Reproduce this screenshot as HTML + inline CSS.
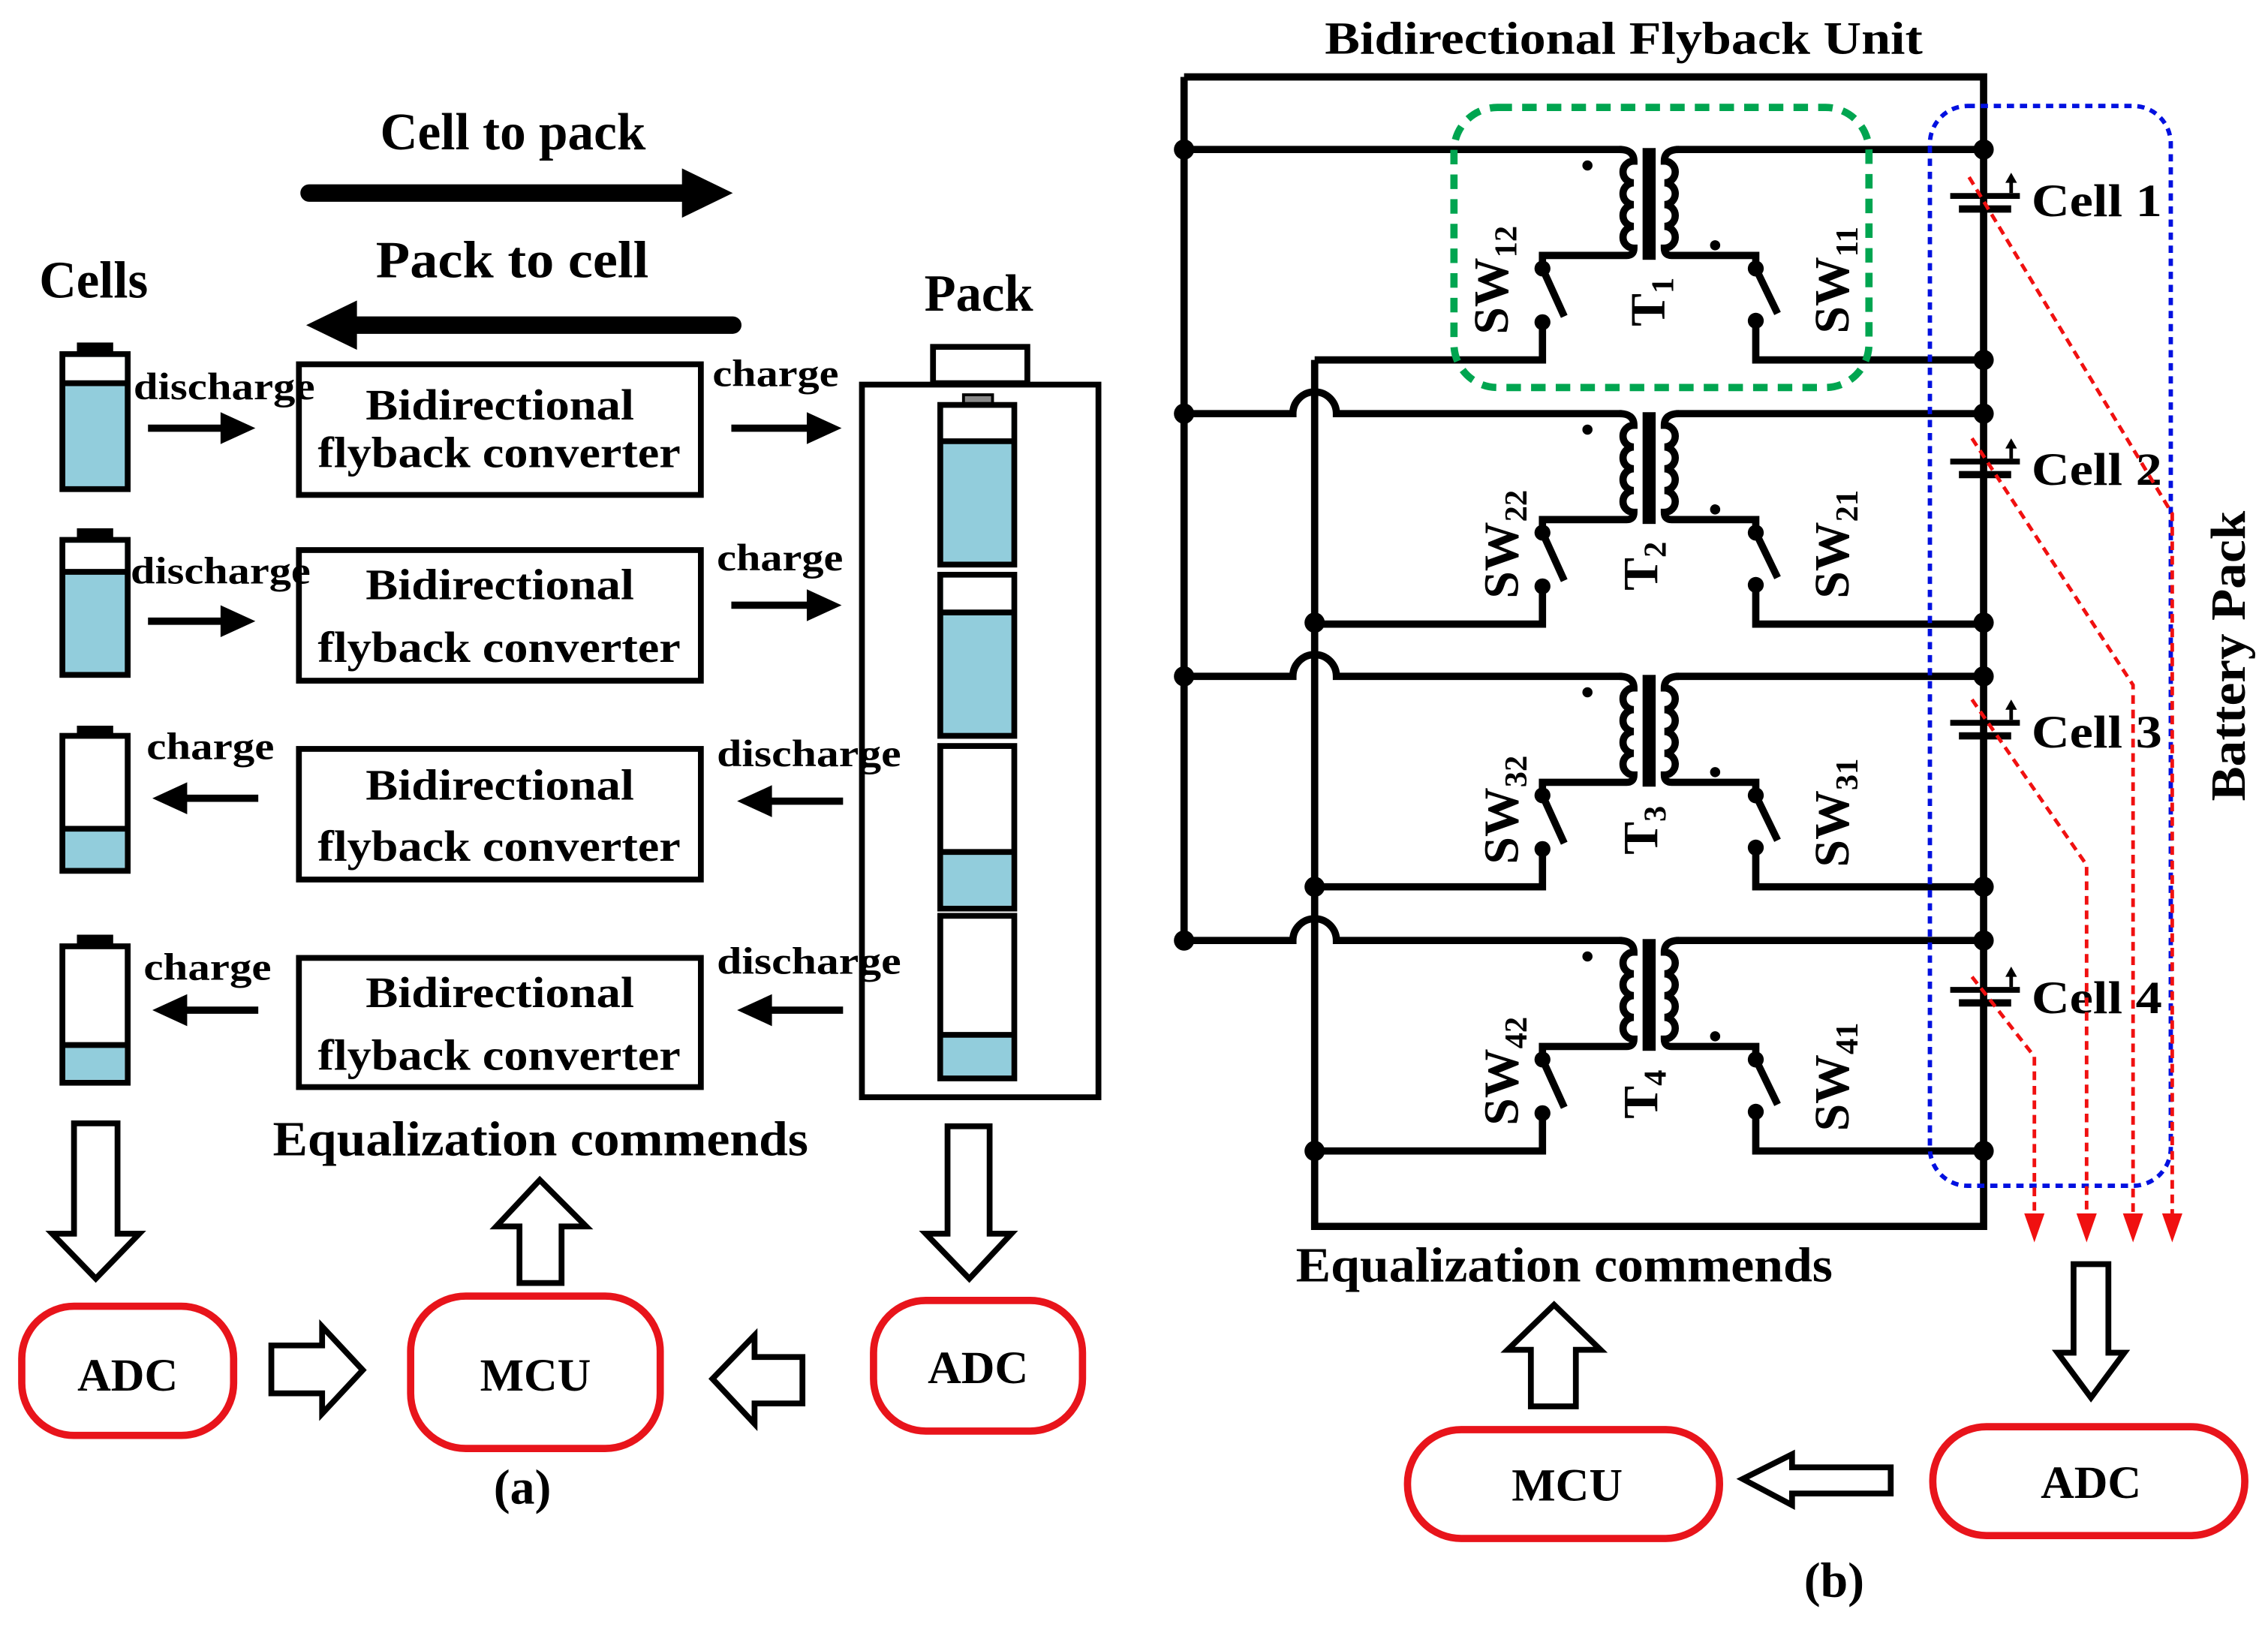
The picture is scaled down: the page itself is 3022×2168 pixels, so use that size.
<!DOCTYPE html>
<html><head><meta charset="utf-8"><style>
html,body{margin:0;padding:0;background:#fff;}
svg{display:block;}
text{font-family:"Liberation Serif",serif;font-weight:bold;fill:#000;}
</style></head><body>
<svg width="3022" height="2168" viewBox="0 0 1563 1121" preserveAspectRatio="none" xmlns="http://www.w3.org/2000/svg">
<defs>
<g id="tx" stroke="#000" stroke-width="5" fill="none" stroke-linecap="butt">
  <path d="M1116,0 q10,0 10,8 a7.5,7.5 0 0 0 0,15 a7.5,7.5 0 0 0 0,15 a7.5,7.5 0 0 0 0,15 a7.5,7.5 0 0 0 0,15 q0,5 -5,5 H1063 V82"/>
  <rect x="1132" y="-1" width="9" height="77" fill="#000" stroke="none"/>
  <path d="M1157,0 q-10,0 -10,8 a7.5,7.5 0 0 1 0,15 a7.5,7.5 0 0 1 0,15 a7.5,7.5 0 0 1 0,15 a7.5,7.5 0 0 1 0,15 q0,5 5,5 H1210 V82"/>
  <line x1="1063" y1="82" x2="1078" y2="115"/>
  <line x1="1210" y1="82" x2="1225" y2="113"/>
  <path d="M1063,119 V145 H906"/>
  <path d="M1210,118 V145 H1367"/>
  <g fill="#000" stroke="none">
    <circle cx="1063" cy="82" r="5.5"/><circle cx="1063" cy="119" r="5.5"/>
    <circle cx="1210" cy="82" r="5.5"/><circle cx="1210" cy="118" r="5.5"/>
    <circle cx="1094" cy="11" r="3.5"/><circle cx="1182" cy="66" r="3.5"/>
  </g>
</g>
</defs>

<!-- ================= PANEL (a) ================= -->
<text x="262" y="103" font-size="36" textLength="183" lengthAdjust="spacingAndGlyphs">Cell to pack</text>
<line x1="213" y1="133" x2="474" y2="133" stroke="#000" stroke-width="12" stroke-linecap="round"/>
<polygon points="470,116 505,133 470,150" fill="#000"/>
<text x="259" y="191" font-size="36" textLength="188" lengthAdjust="spacingAndGlyphs">Pack to cell</text>
<line x1="243" y1="224" x2="505" y2="224" stroke="#000" stroke-width="12" stroke-linecap="round"/>
<polygon points="246,207 211,224 246,241" fill="#000"/>
<text x="27" y="205" font-size="36" textLength="75" lengthAdjust="spacingAndGlyphs">Cells</text>
<text x="637" y="214" font-size="36" textLength="75" lengthAdjust="spacingAndGlyphs">Pack</text>

<!-- pack (drawn first so labels overlay) -->
<g stroke="#000" stroke-width="4">
  <rect x="643" y="239" width="65" height="25" fill="#fff"/>
  <rect x="594" y="265" width="163" height="491" fill="#fff"/>
  <rect x="664" y="272" width="20" height="7" fill="#888" stroke-width="2"/>
  <rect x="648" y="279" width="51" height="110" fill="#92CDDC"/>
  <rect x="650" y="281" width="47" height="23" fill="#fff" stroke="none"/>
  <line x1="648" y1="304" x2="699" y2="304"/>
  <rect x="648" y="396" width="51" height="111" fill="#92CDDC"/>
  <rect x="650" y="398" width="47" height="24" fill="#fff" stroke="none"/>
  <line x1="648" y1="422" x2="699" y2="422"/>
  <rect x="648" y="514" width="51" height="112" fill="#fff"/>
  <rect x="650" y="587" width="47" height="37" fill="#92CDDC" stroke="none"/>
  <line x1="648" y1="587" x2="699" y2="587"/>
  <rect x="648" y="631" width="51" height="112" fill="#fff"/>
  <rect x="650" y="713" width="47" height="28" fill="#92CDDC" stroke="none"/>
  <line x1="648" y1="713" x2="699" y2="713"/>
</g>

<!-- small cells -->
<g stroke="#000" stroke-width="4">
  <rect x="55" y="238" width="21" height="7" fill="#000"/>
  <rect x="43" y="244" width="45" height="93" fill="#92CDDC"/>
  <rect x="45" y="246" width="41" height="18" fill="#fff" stroke="none"/>
  <line x1="43" y1="264" x2="88" y2="264"/>
  <rect x="55" y="366" width="21" height="7" fill="#000"/>
  <rect x="43" y="372" width="45" height="93" fill="#92CDDC"/>
  <rect x="45" y="374" width="41" height="20" fill="#fff" stroke="none"/>
  <line x1="43" y1="394" x2="88" y2="394"/>
  <rect x="55" y="502" width="21" height="6" fill="#000"/>
  <rect x="43" y="507" width="45" height="93" fill="#fff"/>
  <rect x="45" y="571" width="41" height="27" fill="#92CDDC" stroke="none"/>
  <line x1="43" y1="571" x2="88" y2="571"/>
  <rect x="55" y="646" width="21" height="7" fill="#000"/>
  <rect x="43" y="652" width="45" height="94" fill="#fff"/>
  <rect x="45" y="720" width="41" height="24" fill="#92CDDC" stroke="none"/>
  <line x1="43" y1="720" x2="88" y2="720"/>
</g>

<!-- converter boxes -->
<g fill="#fff" stroke="#000" stroke-width="4">
  <rect x="206" y="251" width="277" height="90"/>
  <rect x="206" y="379" width="277" height="90"/>
  <rect x="206" y="516" width="277" height="90"/>
  <rect x="206" y="660" width="277" height="89"/>
</g>
<g font-size="30">
  <text x="252" y="289" textLength="185" lengthAdjust="spacingAndGlyphs">Bidirectional</text>
  <text x="219" y="322" textLength="250" lengthAdjust="spacingAndGlyphs">flyback converter</text>
  <text x="252" y="413" textLength="185" lengthAdjust="spacingAndGlyphs">Bidirectional</text>
  <text x="219" y="456" textLength="250" lengthAdjust="spacingAndGlyphs">flyback converter</text>
  <text x="252" y="551" textLength="185" lengthAdjust="spacingAndGlyphs">Bidirectional</text>
  <text x="219" y="593" textLength="250" lengthAdjust="spacingAndGlyphs">flyback converter</text>
  <text x="252" y="694" textLength="185" lengthAdjust="spacingAndGlyphs">Bidirectional</text>
  <text x="219" y="737" textLength="250" lengthAdjust="spacingAndGlyphs">flyback converter</text>
</g>

<!-- small labels -->
<g font-size="26">
  <text x="92" y="275" textLength="125" lengthAdjust="spacingAndGlyphs">discharge</text>
  <text x="90" y="402" textLength="124" lengthAdjust="spacingAndGlyphs">discharge</text>
  <text x="101" y="523" textLength="88" lengthAdjust="spacingAndGlyphs">charge</text>
  <text x="99" y="675" textLength="88" lengthAdjust="spacingAndGlyphs">charge</text>
  <text x="491" y="266" textLength="87" lengthAdjust="spacingAndGlyphs">charge</text>
  <text x="494" y="393" textLength="87" lengthAdjust="spacingAndGlyphs">charge</text>
  <text x="494" y="528" textLength="127" lengthAdjust="spacingAndGlyphs">discharge</text>
  <text x="494" y="671" textLength="127" lengthAdjust="spacingAndGlyphs">discharge</text>
</g>
<g stroke="#000" stroke-width="5">
  <line x1="102" y1="295" x2="156" y2="295"/><line x1="102" y1="428" x2="156" y2="428"/>
  <line x1="504" y1="295" x2="558" y2="295"/><line x1="504" y1="417" x2="558" y2="417"/>
  <line x1="126" y1="550" x2="178" y2="550"/><line x1="126" y1="696" x2="178" y2="696"/>
  <line x1="529" y1="552" x2="581" y2="552"/><line x1="529" y1="696" x2="581" y2="696"/>
</g>
<g fill="#000">
  <polygon points="152,284 176,295 152,306"/><polygon points="152,417 176,428 152,439"/>
  <polygon points="556,284 580,295 556,306"/><polygon points="556,406 580,417 556,428"/>
  <polygon points="129,539 105,550 129,561"/><polygon points="129,685 105,696 129,707"/>
  <polygon points="532,541 508,552 532,563"/><polygon points="532,685 508,696 532,707"/>
</g>

<!-- hollow arrows (a) -->
<g fill="#fff" stroke="#000" stroke-width="4" stroke-linejoin="miter">
  <polygon points="51,774 81,774 81,850 96,850 66,881 36,850 51,850"/>
  <polygon points="653,776 682,776 682,850 697,850 668,881 638,850 653,850"/>
  <polygon points="358,884 387,884 387,845 404,845 372,813 342,845 358,845"/>
  <polygon points="187,927 222,927 222,914 250,944 222,974 222,960 187,960"/>
  <polygon points="553,935 520,935 520,920 491,950 520,981 520,967 553,967"/>
</g>
<text x="188" y="796" font-size="34" textLength="369" lengthAdjust="spacingAndGlyphs">Equalization commends</text>

<g fill="#fff" stroke="#E8141B" stroke-width="5">
  <rect x="15" y="900" width="146" height="89" rx="36"/>
  <rect x="283" y="893" width="172" height="105" rx="38"/>
  <rect x="602" y="896" width="144" height="90" rx="36"/>
</g>
<g font-size="32" text-anchor="middle">
  <text x="88" y="958">ADC</text>
  <text x="369" y="958">MCU</text>
  <text x="674" y="953">ADC</text>
</g>
<text x="360" y="1036" font-size="34" text-anchor="middle">(a)</text>

<!-- ================= PANEL (b) ================= -->
<text x="913" y="37" font-size="32" textLength="412" lengthAdjust="spacingAndGlyphs">Bidirectional Flyback Unit</text>

<g stroke="#000" stroke-width="5" fill="none">
  <path d="M816,53 H1367 V845 H906 V248"/>
  <line x1="816" y1="53" x2="816" y2="648"/>
  <line x1="816" y1="103" x2="1118" y2="103"/>
  <path d="M816,285 H891 a15,15 0 0 1 30,0 H1118"/>
  <path d="M816,466 H891 a15,15 0 0 1 30,0 H1118"/>
  <path d="M816,648 H891 a15,15 0 0 1 30,0 H1118"/>
  <line x1="1155" y1="103" x2="1367" y2="103"/>
  <line x1="1155" y1="285" x2="1367" y2="285"/>
  <line x1="1155" y1="466" x2="1367" y2="466"/>
  <line x1="1155" y1="648" x2="1367" y2="648"/>
</g>
<use href="#tx" transform="translate(0,103)"/>
<use href="#tx" transform="translate(0,285)"/>
<use href="#tx" transform="translate(0,466)"/>
<use href="#tx" transform="translate(0,648)"/>

<g fill="#000">
  <circle cx="816" cy="103" r="7"/><circle cx="816" cy="285" r="7"/><circle cx="816" cy="466" r="7"/><circle cx="816" cy="648" r="7"/>
  <circle cx="906" cy="429" r="7"/><circle cx="906" cy="611" r="7"/><circle cx="906" cy="793" r="7"/>
  <circle cx="1367" cy="103" r="7"/><circle cx="1367" cy="248" r="7"/>
  <circle cx="1367" cy="285" r="7"/><circle cx="1367" cy="429" r="7"/>
  <circle cx="1367" cy="466" r="7"/><circle cx="1367" cy="611" r="7"/>
  <circle cx="1367" cy="648" r="7"/><circle cx="1367" cy="793" r="7"/>
</g>

<g font-size="34">
  <text transform="translate(1039,193) rotate(-90)" text-anchor="middle">SW<tspan font-size="22" dy="6">12</tspan></text>
  <text transform="translate(1147,208) rotate(-90)" text-anchor="middle">T<tspan font-size="22" dy="6">1</tspan></text>
  <text transform="translate(1274,193) rotate(-90)" text-anchor="middle">SW<tspan font-size="22" dy="6">11</tspan></text>
  <text transform="translate(1046,375) rotate(-90)" text-anchor="middle">SW<tspan font-size="22" dy="6">22</tspan></text>
  <text transform="translate(1142,390) rotate(-90)" text-anchor="middle">T<tspan font-size="22" dy="6">2</tspan></text>
  <text transform="translate(1274,375) rotate(-90)" text-anchor="middle">SW<tspan font-size="22" dy="6">21</tspan></text>
  <text transform="translate(1046,558) rotate(-90)" text-anchor="middle">SW<tspan font-size="22" dy="6">32</tspan></text>
  <text transform="translate(1142,572) rotate(-90)" text-anchor="middle">T<tspan font-size="22" dy="6">3</tspan></text>
  <text transform="translate(1274,560) rotate(-90)" text-anchor="middle">SW<tspan font-size="22" dy="6">31</tspan></text>
  <text transform="translate(1046,738) rotate(-90)" text-anchor="middle">SW<tspan font-size="22" dy="6">42</tspan></text>
  <text transform="translate(1142,754) rotate(-90)" text-anchor="middle">T<tspan font-size="22" dy="6">4</tspan></text>
  <text transform="translate(1274,742) rotate(-90)" text-anchor="middle">SW<tspan font-size="22" dy="6">41</tspan></text>
</g>

<rect x="1002" y="74" width="286" height="193" rx="30" fill="none" stroke="#00A550" stroke-width="5" stroke-dasharray="10,7"/>

<g stroke="#000" stroke-width="4">
  <g id="c1"><line x1="1344" y1="135" x2="1392" y2="135"/><line x1="1350" y1="144" x2="1386" y2="144" stroke-width="5"/>
    <line x1="1386" y1="123" x2="1386" y2="133" stroke-width="2.5"/><polygon points="1382,126 1386,119 1390,126" fill="#000" stroke="none"/></g>
  <use href="#c1" transform="translate(0,183)"/>
  <use href="#c1" transform="translate(0,363)"/>
  <use href="#c1" transform="translate(0,547)"/>
</g>
<g font-size="32">
  <text x="1400" y="149" textLength="90" lengthAdjust="spacingAndGlyphs">Cell 1</text>
  <text x="1400" y="334" textLength="90" lengthAdjust="spacingAndGlyphs">Cell 2</text>
  <text x="1400" y="515" textLength="90" lengthAdjust="spacingAndGlyphs">Cell 3</text>
  <text x="1400" y="698" textLength="90" lengthAdjust="spacingAndGlyphs">Cell 4</text>
</g>
<text transform="translate(1547,452) rotate(-90)" font-size="34" text-anchor="middle" textLength="200" lengthAdjust="spacingAndGlyphs">Battery Pack</text>

<rect x="1330" y="73" width="166" height="744" rx="26" fill="none" stroke="#0010E0" stroke-width="3" stroke-dasharray="5,4"/>

<g fill="none" stroke="#F01010" stroke-width="2.5" stroke-dasharray="6,4">
  <polyline points="1357,122 1497,354 1497,840"/>
  <polyline points="1359,302 1470,472 1470,840"/>
  <polyline points="1359,482 1438,596 1438,840"/>
  <polyline points="1359,673 1402,728 1402,840"/>
</g>
<g fill="#F01010">
  <polygon points="1490,836 1504,836 1497,856"/>
  <polygon points="1463,836 1477,836 1470,856"/>
  <polygon points="1431,836 1445,836 1438,856"/>
  <polygon points="1395,836 1409,836 1402,856"/>
</g>

<text x="893" y="883" font-size="34" textLength="370" lengthAdjust="spacingAndGlyphs">Equalization commends</text>

<g fill="#fff" stroke="#000" stroke-width="4">
  <polygon points="1055,969 1086,969 1086,930 1103,930 1071,899 1039,930 1055,930"/>
  <polygon points="1429,871 1453,871 1453,932 1464,932 1441,963 1418,932 1429,932"/>
  <polygon points="1303,1011 1235,1011 1235,1002 1201,1019 1235,1037 1235,1029 1303,1029"/>
</g>
<g fill="#fff" stroke="#E8141B" stroke-width="5">
  <rect x="970" y="985" width="215" height="75" rx="37"/>
  <rect x="1332" y="983" width="215" height="75" rx="37"/>
</g>
<g font-size="32" text-anchor="middle">
  <text x="1080" y="1034">MCU</text>
  <text x="1441" y="1032">ADC</text>
</g>
<text x="1264" y="1100" font-size="34" text-anchor="middle">(b)</text>
</svg>
</body></html>
